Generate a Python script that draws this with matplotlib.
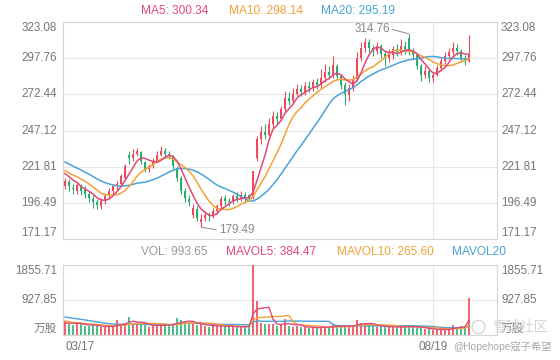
import matplotlib
matplotlib.use("Agg")
import matplotlib.pyplot as plt
import numpy as np
import pandas as pd
from matplotlib.patches import Ellipse

plt.rcParams['font.family'] = ['Liberation Sans', 'Noto Sans CJK SC', 'DejaVu Sans']

# ---------------- data ----------------
opens = [208, 211, 207, 205, 209, 206, 203, 199, 197, 194, 198,
         201, 205, 208, 210, 214, 230, 228, 231, 232, 225, 220, 222, 226, 230, 233,
         231, 229, 221, 214, 205, 199, 188, 192, 183, 186, 188,
         187, 191, 194, 200, 198, 197, 201, 199, 202, 202,
         201, 228, 241, 246, 244, 252, 257, 255, 262, 270, 268, 273, 276, 274, 278, 277,
         281, 279, 284, 288, 286, 292, 285, 279, 272, 277, 283, 298, 305, 309, 305, 303,
         306, 301, 298, 300, 304, 302, 306, 312, 302, 300, 292, 286, 289, 284, 286, 291,
         296, 299, 302, 305, 303, 298, 296]
closes = [212, 208, 206, 209, 205, 203, 200, 197, 195, 198, 201,
          205, 208, 210, 215, 222, 228, 231, 233, 226, 220, 222, 226, 230, 233, 231,
          229, 222, 214, 205, 200, 197, 193, 186, 185, 188, 187,
          191, 194, 199, 198, 197, 201, 199, 202, 200, 199,
          219, 241, 246, 244, 252, 257, 255, 262, 270, 268, 273, 276, 274, 278, 277, 281,
          279, 284, 288, 286, 293, 285, 279, 273, 277, 283, 298, 305, 309, 305, 303, 306,
          301, 298, 300, 304, 302, 306, 304, 302, 300, 292, 286, 289, 284, 286, 291, 296,
          299, 302, 305, 303, 298, 296, 300]
highs = [214, 213, 210, 211, 210, 208, 205, 202, 199, 200, 203,
         207, 210, 212, 217, 224, 233, 234, 235, 233, 226, 224, 228, 233, 236, 235,
         233, 230, 222, 215, 207, 202, 196, 194, 189, 191, 190,
         193, 196, 201, 202, 200, 203, 204, 205, 204, 203,
         219, 243, 250, 252, 256, 261, 260, 264, 275, 274, 277, 280, 279, 281, 282, 283,
         284, 290, 294, 292, 299, 294, 287, 281, 280, 286, 302, 309, 312, 311, 307, 309,
         308, 303, 304, 306, 308, 311, 310, 314.76, 305, 301, 294, 292, 290, 288, 293, 298,
         302, 305, 309, 308, 304, 300, 314]
lows = [206, 205, 203, 203, 202, 200, 197, 193, 192, 192, 196,
        199, 203, 205, 208, 213, 224, 226, 229, 224, 218, 218, 221, 225, 229, 228,
        227, 220, 212, 203, 197, 194, 186, 184, 179.49, 184, 184,
        186, 189, 193, 195, 194, 196, 197, 198, 197, 198,
        199, 226, 238, 241, 243, 249, 252, 254, 260, 265, 266, 271, 271, 272, 274, 275,
        276, 277, 281, 283, 284, 283, 276, 265, 268, 275, 282, 296, 302, 302, 299, 301,
        298, 292, 295, 297, 299, 300, 301, 300, 297, 290, 282, 284, 281, 281, 285, 289,
        294, 297, 300, 300, 295, 293, 295]
volumes = [380, 300, 260, 320, 280, 250, 230, 260, 240, 220, 210,
           230, 200, 400, 300, 320, 477, 330, 300, 280, 260, 220, 240, 270, 300, 260,
           240, 300, 450, 400, 380, 300, 280, 260, 300, 250, 220,
           230, 240, 260, 230, 200, 220, 210, 240, 220, 230,
           1855.71, 900, 330, 300, 280, 300, 240, 260, 430, 250, 220, 230, 200, 210, 190, 200,
           180, 220, 240, 200, 260, 240, 220, 250, 220, 240, 400, 320, 300, 260, 230, 220,
           240, 220, 200, 210, 200, 230, 210, 260, 200, 190, 180, 160, 150, 140, 130, 150,
           160, 154, 260, 220, 250, 199, 993.65]
# closes / volumes of the 19 sessions before 03/17 (seed the moving averages)
prior_close = [238, 236, 235, 233, 232, 230, 229, 228, 226, 225,
               224, 222, 221, 220, 219, 219, 218, 217, 219]
prior_vol = [650, 600, 560, 620, 540, 580, 600, 550, 570, 570,
             480, 420, 400, 410, 390, 320, 290, 310, 300]

date_labels = ['03/17', '08/19']
date_index = [0, 92]
price_ticks = [171.17, 196.49, 221.81, 247.12, 272.44, 297.76, 323.08]
vol_ticks = [0, 927.85, 1855.71]
vol_tick_labels = ['万股', '927.85', '1855.71']
extremes = {'high': (86, 314.76), 'low': (34, 179.49)}
legend_main = [('MA5: 300.34', 141), ('MA10: 298.14', 229), ('MA20: 295.19', 321)]
legend_vol = [('VOL: 993.65', 141), ('MAVOL5: 384.47', 226), ('MAVOL10: 265.60', 337), ('MAVOL20', 452)]

# ---------------- styling ----------------
RED = '#ee4a5a'
GREEN = '#27ae6a'
VRED = '#f0646e'
VGREEN = '#4cc28a'
C5 = '#e2487a'
C10 = '#f4a236'
C20 = '#4aa3d6'
TXT = '#777777'
GRID = '#e6e6e6'
SPINE = '#d6d6d6'
FS = 8.4

W, H = 560, 360
fig = plt.figure(figsize=(W / 100, H / 100), dpi=100)
ax = fig.add_axes([63 / W, 1 - 239 / H, 434 / W, 217 / H])
axv = fig.add_axes([63 / W, 1 - 335 / H, 434 / W, 70 / H])

o = np.array(opens, float)
c = np.array(closes, float)
h = np.array(highs, float)
l = np.array(lows, float)
v = np.array(volumes, float)
n = len(c)
x = np.arange(n)
up = c >= o
ccol = np.where(up, RED, GREEN)
vcol = np.where(up, VRED, VGREEN)

npc = len(prior_close)
fc = pd.Series(prior_close + list(c))
fv = pd.Series(prior_vol + list(v))
ma = {k: fc.rolling(k).mean().values[npc:] for k in (5, 10, 20)}
mav = {k: fv.rolling(k).mean().values[npc:] for k in (5, 10, 20)}

# candles
ax.vlines(x, l, h, colors=ccol, lw=0.8, zorder=3)
ax.bar(x, np.maximum(np.abs(c - o), 0.35), bottom=np.minimum(o, c), width=0.6,
       color=ccol, lw=0, zorder=3)
ax.plot(x, ma[20], color=C20, lw=1.1, zorder=4)
ax.plot(x, ma[10], color=C10, lw=1.1, zorder=4)
ax.plot(x, ma[5], color=C5, lw=1.1, zorder=4)

ax.set_xlim(-0.5, 108)
ax.set_ylim(price_ticks[0], price_ticks[-1])
ax.set_yticks(price_ticks)
ax.set_xticks([])
ax.tick_params(axis='y', length=0, labelleft=False)
ax.grid(axis='y', color=GRID, lw=0.8, zorder=0)
ax.axvline(date_index[1], color=GRID, lw=0.8, zorder=0)

ytr = ax.get_yaxis_transform()
for i, t in enumerate(price_ticks):
    va = 'bottom' if i == 0 else ('top' if i == len(price_ticks) - 1 else 'center')
    lab = f'{t:.2f}'
    ax.text(-6 / 434, t, lab, transform=ytr, ha='right', va=va, fontsize=FS, color=TXT)
    ax.text(1 + 4 / 434, t, lab, transform=ytr, ha='left', va=va, fontsize=FS, color=TXT)

# extreme annotations
hi_i, hi_v = extremes['high']
lo_i, lo_v = extremes['low']
ax.annotate(f'{hi_v:.2f}', xy=(hi_i, hi_v), xytext=(hi_i - 4.8, hi_v + 3.6),
            ha='right', va='center', fontsize=FS, color='#888888',
            arrowprops=dict(arrowstyle='-', color='#999999', lw=0.8,
                            shrinkA=0, shrinkB=0, relpos=(1, 0.5)))
ax.annotate(f'{lo_v:.2f}', xy=(lo_i, lo_v), xytext=(lo_i + 4.5, lo_v - 2.2),
            ha='left', va='center', fontsize=FS, color='#888888',
            arrowprops=dict(arrowstyle='-', color='#999999', lw=0.8,
                            shrinkA=0, shrinkB=0, relpos=(0, 0.5)))

# volume
axv.bar(x, v, width=0.6, color=vcol, lw=0, zorder=3)
axv.plot(x, mav[20], color=C20, lw=1.0, zorder=4)
axv.plot(x, mav[10], color=C10, lw=1.0, zorder=4)
axv.plot(x, mav[5], color=C5, lw=1.0, zorder=4)
axv.set_xlim(-0.5, 108)
axv.set_ylim(vol_ticks[0], vol_ticks[-1])
axv.set_yticks(vol_ticks)
axv.set_xticks([])
axv.tick_params(axis='y', length=0, labelleft=False)
axv.grid(axis='y', color=GRID, lw=0.8, zorder=0)
axv.axvline(date_index[1], color=GRID, lw=0.8, zorder=0)
vtr = axv.get_yaxis_transform()
for i, (t, lab) in enumerate(zip(vol_ticks, vol_tick_labels)):
    va = 'bottom' if i == 0 else ('top' if i == len(vol_ticks) - 1 else 'center')
    axv.text(-6 / 434, t, lab, transform=vtr, ha='right', va=va, fontsize=FS, color=TXT)
    axv.text(1 + 4 / 434, t, lab, transform=vtr, ha='left', va=va, fontsize=FS, color=TXT)

for a in (ax, axv):
    for s in a.spines.values():
        s.set_color(SPINE)
        s.set_linewidth(0.8)

# date labels
xtr = axv.get_xaxis_transform()
axv.text(date_index[0], -12 / 70, date_labels[0], transform=xtr, ha='left', va='center',
         fontsize=FS, color=TXT)
axv.text(date_index[1], -12 / 70, date_labels[1], transform=xtr, ha='center', va='center',
         fontsize=FS, color=TXT)

# legends
main_cols = [C5, C10, C20]
for (txt, px), col in zip(legend_main, main_cols):
    fig.text(px / W, 1 - 11 / H, txt, color=col, fontsize=8.6, va='center', ha='left')
vol_cols = ['#999999', C5, C10, C20]
for (txt, px), col in zip(legend_vol, vol_cols):
    fig.text(px / W, 1 - 252 / H, txt, color=col, fontsize=8.6, va='center', ha='left')

# watermark / credit
fig.patches.append(Ellipse((478.5 / W, 1 - 327 / H), 13 / W, 13 / H, transform=fig.transFigure,
                           fill=False, ec='#d4d4d4', lw=1.0))
fig.text(493 / W, 1 - 327 / H, '雪球社区', color='#d4d4d4', fontsize=10, va='center', ha='left')
fig.text(453 / W, 1 - 347 / H, '@Hopehope寇子希望', color='#aaaaaa', fontsize=7.4,
         va='center', ha='left')

fig.savefig('out.png', dpi=100, facecolor='white')
